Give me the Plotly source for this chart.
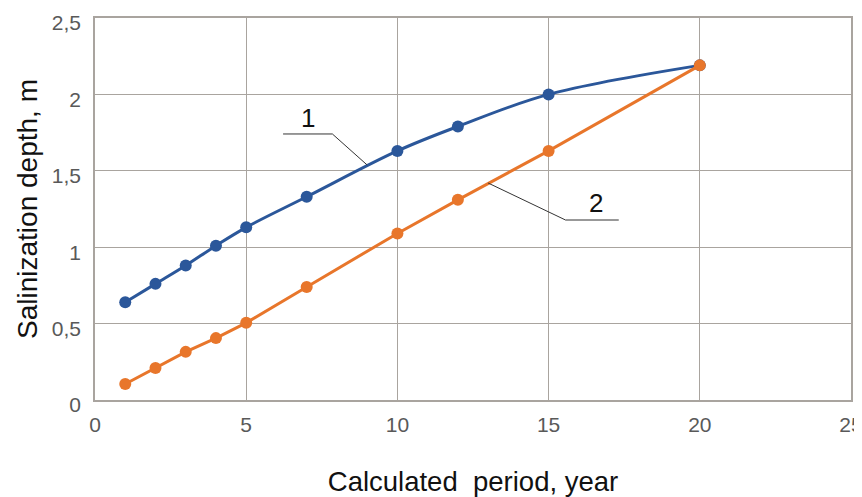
import plotly.graph_objects as go

years_1 = [1, 2, 3, 4, 5, 7, 10, 12, 15, 20]
depth_1 = [0.64, 0.76, 0.88, 1.01, 1.13, 1.33, 1.63, 1.79, 2.0, 2.19]
years_2 = [1, 2, 3, 4, 5, 7, 10, 12, 15, 20]
depth_2 = [0.105, 0.21, 0.315, 0.405, 0.505, 0.74, 1.09, 1.31, 1.63, 2.19]

x_ticks = [0, 5, 10, 15, 20, 25]
y_ticks = [0, 0.5, 1, 1.5, 2, 2.5]
y_tick_text = ["0", "0,5", "1", "1,5", "2", "2,5"]

blue = "#2B579A"
orange = "#E8762B"
grid = "#A9A49F"

fig = go.Figure()
fig.add_trace(go.Scatter(x=years_1, y=depth_1, mode="lines+markers",
                         line=dict(color=blue, width=3, shape="spline", smoothing=1),
                         marker=dict(color=blue, size=12), showlegend=False))
fig.add_trace(go.Scatter(x=years_2, y=depth_2, mode="lines+markers",
                         line=dict(color=orange, width=3),
                         marker=dict(color=orange, size=12), showlegend=False))

# leader lines for labels
fig.add_trace(go.Scatter(x=[6.22, 7.85, 9.0], y=[1.741, 1.741, 1.538], mode="lines",
                         line=dict(color="#333333", width=1), showlegend=False, hoverinfo="skip"))
fig.add_trace(go.Scatter(x=[13.0, 15.56, 17.32], y=[1.42, 1.178, 1.178], mode="lines",
                         line=dict(color="#333333", width=1), showlegend=False, hoverinfo="skip"))

fig.add_annotation(x=7.05, y=1.845, text="1", showarrow=False,
                   font=dict(family="Liberation Sans, Arial", size=26, color="#111111"))
fig.add_annotation(x=16.56, y=1.29, text="2", showarrow=False,
                   font=dict(family="Liberation Sans, Arial", size=26, color="#111111"))

fig.update_layout(
    width=854, height=489,
    margin=dict(l=87, r=11, t=10, b=97),
    plot_bgcolor="white", paper_bgcolor="white",
    font=dict(family="Liberation Sans, Arial", color="#595959", size=21),
)
fig.update_xaxes(range=[0, 25], tickvals=x_ticks, showgrid=True, gridcolor=grid, gridwidth=1,
                 showline=True, linecolor=grid, linewidth=1.5, mirror=True, zeroline=False,
                 ticks="", ticklabelstandoff=5, automargin=False, ticklabeloverflow="allow",
                 title=dict(text="Calculated\u00a0 period, year", standoff=42,
                            font=dict(size=27.5, color="#111111")))
fig.update_yaxes(range=[0, 2.5], tickvals=y_ticks, ticktext=y_tick_text, showgrid=True,
                 gridcolor=grid, gridwidth=1, showline=True, linecolor=grid, linewidth=1.5,
                 mirror=True, zeroline=False, ticks="", ticklabelstandoff=8, automargin=False,
                 ticklabeloverflow="allow", ticklabelshift=5,
                 title=dict(text="Salinization depth, m", standoff=6,
                            font=dict(size=28, color="#111111")))

fig.write_html("out.html")
